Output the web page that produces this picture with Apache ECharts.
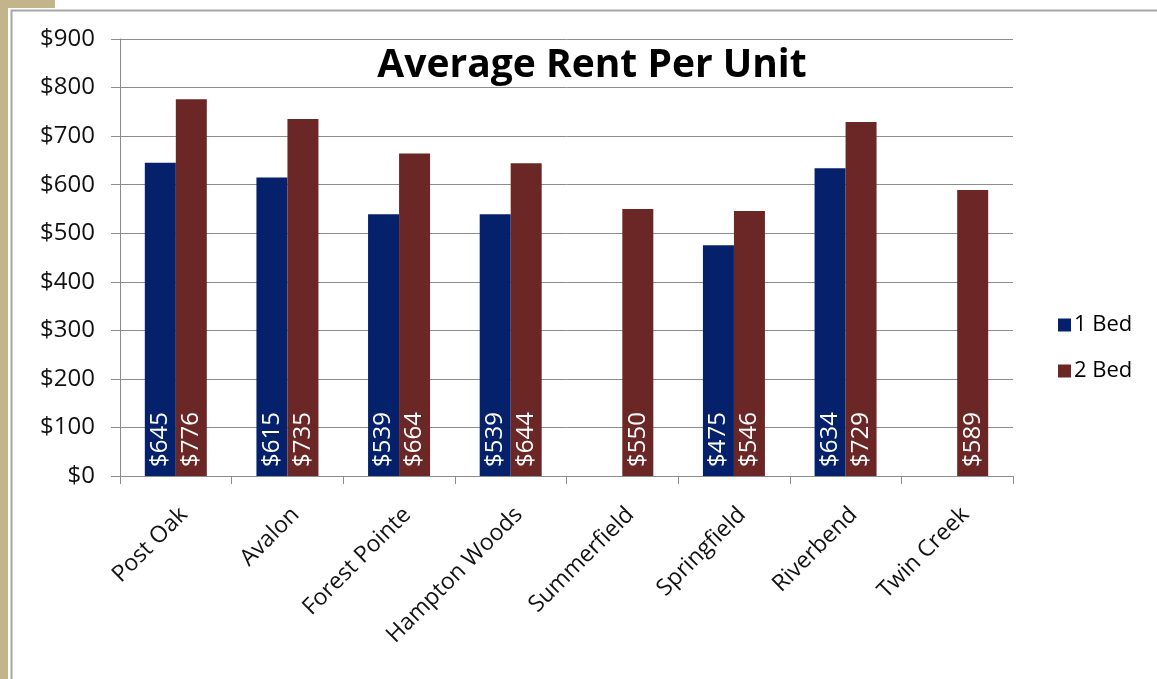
<!DOCTYPE html>
<html>
<head>
<meta charset="utf-8">
<script src="https://cdn.jsdelivr.net/npm/echarts@6/dist/echarts.min.js"></script>
<style>
  html, body { margin: 0; padding: 0; background: #fff; }
  #main { width: 1157px; height: 679px; }
</style>
</head>
<body>
<div id="main"></div>
<script>
var categories = ["Post Oak", "Avalon", "Forest Pointe", "Hampton Woods", "Summerfield", "Springfield", "Riverbend", "Twin Creek"];
var oneBed = [645, 615, 539, 539, null, 475, 634, null];
var twoBed = [776, 735, 664, 644, 550, 546, 729, 589];

var chartDom = document.getElementById('main');
var myChart = echarts.init(chartDom);
var option;

var font = '"Open Sans", sans-serif';
var barLabel = {
  show: true,
  position: 'insideBottom',
  rotate: 90,
  align: 'left',
  verticalAlign: 'middle',
  distance: 9,
  color: '#fff',
  fontSize: 24,
  fontFamily: font,
  formatter: function (p) { return '$' + p.value; }
};

option = {
  color: ['#05216b', '#6b2626'],
  animation: false,
  graphic: [
    { type: 'rect', shape: { x: 0, y: 0, width: 8, height: 679 }, style: { fill: '#c3b48c' } },
    { type: 'rect', shape: { x: 0, y: 0, width: 55, height: 8 }, style: { fill: '#c3b48c' } },
    { type: 'rect', shape: { x: 11.5, y: 10.5, width: 1200, height: 700 }, style: { fill: 'none', stroke: '#a6a6a6', lineWidth: 2 } }
  ],
  title: {
    text: 'Average Rent Per Unit',
    left: 587,
    textAlign: 'center',
    top: 41,
    textStyle: { fontFamily: font, fontWeight: 'bold', fontSize: 39, color: '#000' }
  },
  legend: {
    orient: 'vertical',
    left: 1053,
    top: 309,
    itemGap: 24,
    itemWidth: 13,
    itemHeight: 13,
    icon: 'rect',
    textStyle: { fontFamily: font, fontSize: 22, color: '#000', padding: [0, 0, 0, -2] },
    data: ['1 Bed', '2 Bed']
  },
  grid: {
    left: 120,
    right: 144,
    top: 39,
    bottom: 203
  },
  xAxis: {
    type: 'category',
    data: categories,
    axisLine: { lineStyle: { color: '#8c8c8c' } },
    axisTick: { show: true, length: 8, lineStyle: { color: '#8c8c8c' } },
    axisLabel: { rotate: 45, margin: 27, interval: 0, verticalAlign: 'top', fontFamily: font, fontSize: 23, color: '#111' }
  },
  yAxis: {
    type: 'value',
    min: 0,
    max: 900,
    interval: 100,
    axisLine: { show: true, lineStyle: { color: '#8c8c8c' } },
    axisTick: { show: true, length: 9, lineStyle: { color: '#8c8c8c' } },
    splitLine: { lineStyle: { color: '#8c8c8c' } },
    axisLabel: { margin: 25, fontFamily: font, fontSize: 24, color: '#111', formatter: function (v) { return '$' + v; } }
  },
  series: [
    { name: '1 Bed', type: 'bar', data: oneBed, barWidth: 31, barGap: '0%', label: barLabel },
    { name: '2 Bed', type: 'bar', data: twoBed, barWidth: 31, barGap: '0%', label: barLabel }
  ]
};

option && myChart.setOption(option);
window.addEventListener("resize", function() {
    myChart.resize();
  });
</script>
</body>
</html>
